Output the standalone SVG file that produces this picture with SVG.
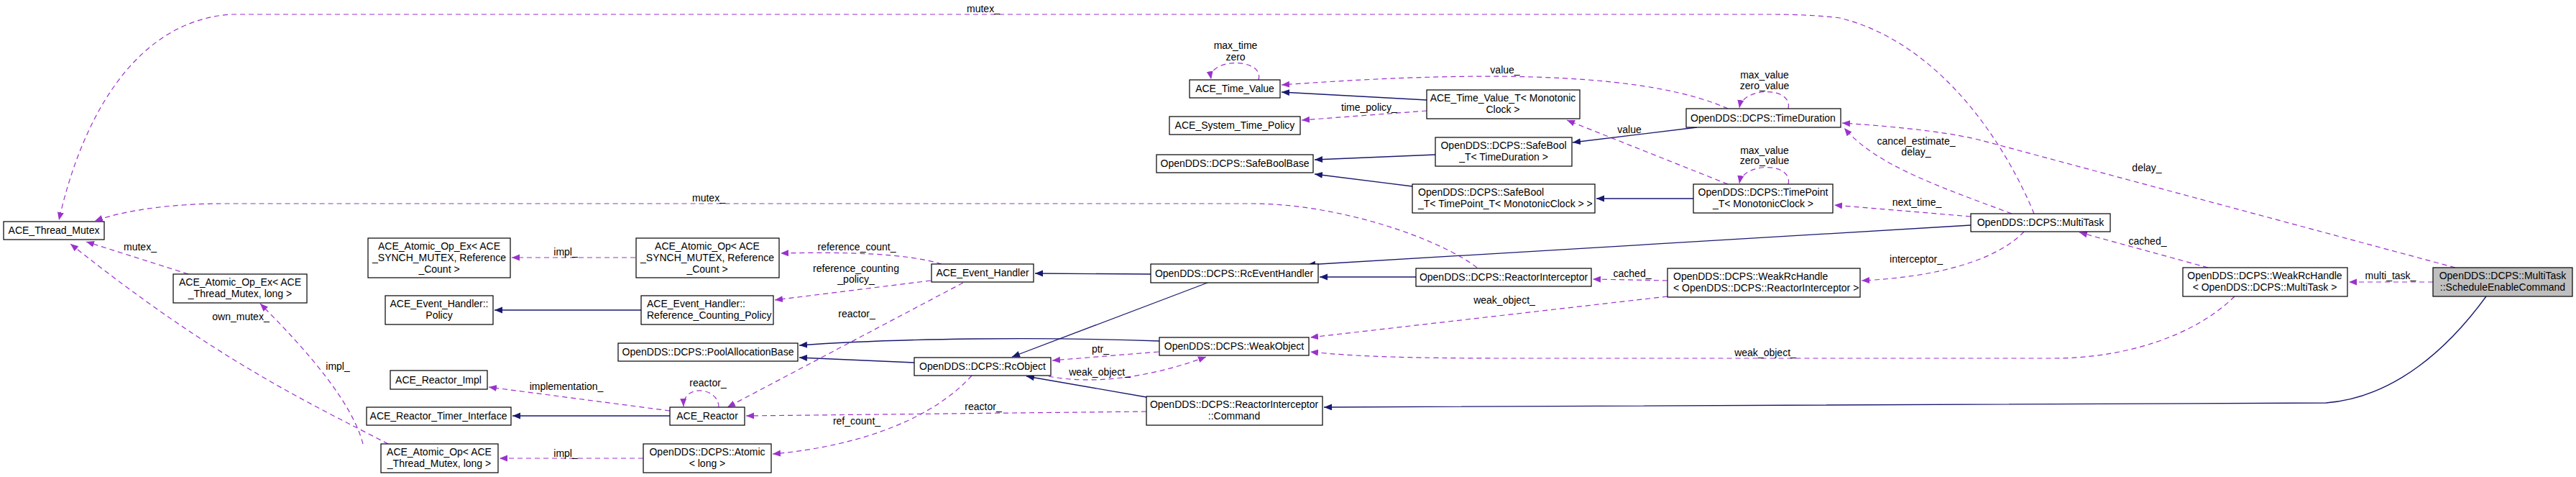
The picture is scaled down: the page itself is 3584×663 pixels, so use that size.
<svg xmlns="http://www.w3.org/2000/svg" width="3584" height="663" viewBox="0 0 3584 663">
<style>
rect{fill:#fff;stroke:#000;stroke-width:1.2}
text{font-family:"Liberation Sans",Arial,sans-serif;font-size:14px;fill:#000}
.c{text-anchor:middle}
.u{fill:none;stroke:#9a32cd;stroke-width:1.2;stroke-dasharray:7,5;marker-end:url(#pu)}
.i{fill:none;stroke:#191970;stroke-width:1.3;marker-end:url(#nv)}
.m{fill:#bfbfbf}
</style>
<defs>
<marker id="pu" markerUnits="userSpaceOnUse" markerWidth="12" markerHeight="10" refX="11" refY="4.5" orient="auto"><path d="M0,0 L11,4.5 L0,9 z" fill="#9a32cd"/></marker>
<marker id="nv" markerUnits="userSpaceOnUse" markerWidth="12" markerHeight="10" refX="11" refY="4.5" orient="auto"><path d="M0,0 L11,4.5 L0,9 z" fill="#191970"/></marker>
</defs>
<rect x="0" y="0" width="3584" height="663" style="stroke:none"/>
<g id="edges">
<path class="u" d="M2830,297 C2790,200 2700,60 2560,25 C2520,20 2480,20 2460,20 L321,20 C180,30 110,180 82,306"/>
<path class="u" d="M2055,372 C2000,330 1860,283 1742,283 L310,283 C250,283 180,290 132,307"/>
<path class="u" d="M262,381 L120,336"/>
<path class="u" d="M540,617 C430,560 300,500 98,339"/>
<path class="u" d="M505,617 C490,560 430,490 362,422"/>
<path class="u" d="M884,358 L712,358"/>
<path class="u" d="M895,637 L695,637"/>
<path class="u" d="M932,571 L680,538"/>
<path class="u" d="M1000,566 C1000,538 950,533 951,565"/>
<path class="u" d="M1310,367 C1260,352 1180,350 1086,352"/>
<path class="u" d="M1295,390 L1078,417"/>
<path class="u" d="M1340,393 L1012,566"/>
<path class="u" d="M1352,522 C1300,580 1200,620 1075,631"/>
<path class="u" d="M1595,572 L1038,578"/>
<path class="u" d="M1612,489 L1464,501"/>
<path class="u" d="M1459,523 C1520,535 1600,525 1678,496"/>
<path class="u" d="M2404,151 C2300,105 2100,95 1783,118"/>
<path class="u" d="M1985,154 L1811,167"/>
<path class="u" d="M2404,256 L2180,167"/>
<path class="u" d="M2488,151 C2495,120 2425,120 2420,150"/>
<path class="u" d="M2488,256 C2495,225 2425,225 2420,255"/>
<path class="u" d="M1751,111 C1760,80 1680,80 1685,110"/>
<path class="u" d="M2799,297 C2700,260 2610,230 2566,178"/>
<path class="u" d="M2742,301 L2552,285"/>
<path class="u" d="M2816,322 C2780,360 2700,385 2590,390"/>
<path class="u" d="M2320,390 L2216,388"/>
<path class="u" d="M2320,412 L1823,469"/>
<path class="u" d="M3072,372 L2893,323"/>
<path class="u" d="M3385,392 L3268,392"/>
<path class="u" d="M3416,372 L2760,196 Q2700,180 2563,171"/>
<path class="u" d="M3109,412 C3050,470 2950,498 2858,498 L2100,498 C1950,498 1880,495 1823,489"/>
<path class="i" d="M892,431 L688,431"/>
<path class="i" d="M932,578 L713,578"/>
<path class="i" d="M1985,139 L1783,128"/>
<path class="i" d="M1997,215 L1829,222"/>
<path class="i" d="M1965,259 L1829,242"/>
<path class="i" d="M2361,177 L2188,198"/>
<path class="i" d="M2356,276 L2221,276"/>
<path class="i" d="M1601,381 L1440,380"/>
<path class="i" d="M1680,393 L1408,496"/>
<path class="i" d="M1970,385 L1836,385"/>
<path class="i" d="M2742,313 L1819,368"/>
<path class="i" d="M1613,474 C1450,468 1250,470 1112,480"/>
<path class="i" d="M1272,504 L1112,497"/>
<path class="i" d="M1595,552 L1428,523"/>
<path class="i" d="M3459,412 C3380,520 3300,555 3236,560 L1842,566"/>
<text class="c" x="1368" y="17">mutex_</text>
<text class="c" x="986" y="280">mutex_</text>
<text class="c" x="195" y="348">mutex_</text>
<text class="c" x="335" y="445">own_mutex_</text>
<text class="c" x="470" y="514">impl_</text>
<text class="c" x="787" y="355">impl_</text>
<text class="c" x="787" y="635">impl_</text>
<text class="c" x="788" y="542">implementation_</text>
<text class="c" x="985" y="537">reactor_</text>
<text class="c" x="1192" y="348">reference_count_</text>
<text class="c" x="1191" y="378">reference_counting</text>
<text class="c" x="1191" y="393">_policy_</text>
<text class="c" x="1192" y="441">reactor_</text>
<text class="c" x="1192" y="590">ref_count_</text>
<text class="c" x="1368" y="570">reactor_</text>
<text class="c" x="1531" y="490">ptr_</text>
<text class="c" x="1530" y="522">weak_object_</text>
<text class="c" x="1719" y="68">max_time</text>
<text class="c" x="1719" y="84">zero</text>
<text class="c" x="2094" y="102">value_</text>
<text class="c" x="1905" y="154">time_policy_</text>
<text class="c" x="2267" y="185">value</text>
<text class="c" x="2455" y="109">max_value</text>
<text class="c" x="2455" y="124">zero_value</text>
<text class="c" x="2455" y="214">max_value</text>
<text class="c" x="2455" y="228">zero_value</text>
<text class="c" x="2666" y="201">cancel_estimate_</text>
<text class="c" x="2666" y="216">delay_</text>
<text class="c" x="2667" y="286">next_time_</text>
<text class="c" x="2666" y="365">interceptor_</text>
<text class="c" x="2271" y="385">cached_</text>
<text class="c" x="2093" y="422">weak_object_</text>
<text class="c" x="2456" y="495">weak_object_</text>
<text class="c" x="2987" y="238">delay_</text>
<text class="c" x="2988" y="340">cached_</text>
<text class="c" x="3326" y="388">multi_task_</text>
</g>
<g id="n1"><rect x="5" y="308" width="140" height="25"/><text class="c" x="75" y="325">ACE_Thread_Mutex</text></g>
<g id="n2"><rect x="241" y="381" width="186" height="40"/><text class="c" x="334" y="397">ACE_Atomic_Op_Ex&lt; ACE</text><text class="c" x="334" y="413">_Thread_Mutex, long &gt;</text></g>
<g id="n3"><rect x="530" y="617" width="163" height="40"/><text class="c" x="611" y="633">ACE_Atomic_Op&lt; ACE</text><text class="c" x="611" y="649">_Thread_Mutex, long &gt;</text></g>
<g id="n4"><rect x="512" y="331" width="198" height="55"/><text class="c" x="611" y="347">ACE_Atomic_Op_Ex&lt; ACE</text><text class="c" x="611" y="363">_SYNCH_MUTEX, Reference</text><text class="c" x="611" y="379">_Count &gt;</text></g>
<g id="n5"><rect x="536" y="411" width="150" height="40"/><text class="c" x="611" y="427">ACE_Event_Handler::</text><text class="c" x="611" y="443">Policy</text></g>
<g id="n6"><rect x="543" y="515" width="135" height="26"/><text class="c" x="610" y="533">ACE_Reactor_Impl</text></g>
<g id="n7"><rect x="510" y="566" width="201" height="25"/><text class="c" x="610" y="583">ACE_Reactor_Timer_Interface</text></g>
<g id="n8"><rect x="885" y="331" width="199" height="55"/><text class="c" x="984" y="347">ACE_Atomic_Op&lt; ACE</text><text class="c" x="984" y="363">_SYNCH_MUTEX, Reference</text><text class="c" x="984" y="379">_Count &gt;</text></g>
<g id="n9"><rect x="892" y="411" width="184" height="40"/><text x="900" y="427">ACE_Event_Handler::</text><text x="900" y="443">Reference_Counting_Policy</text></g>
<g id="n10"><rect x="860" y="477" width="250" height="25"/><text class="c" x="985" y="494">OpenDDS::DCPS::PoolAllocationBase</text></g>
<g id="n11"><rect x="932" y="566" width="104" height="25"/><text class="c" x="984" y="583">ACE_Reactor</text></g>
<g id="n12"><rect x="895" y="617" width="178" height="40"/><text class="c" x="984" y="633">OpenDDS::DCPS::Atomic</text><text class="c" x="984" y="649">&lt; long &gt;</text></g>
<g id="n13"><rect x="1296" y="367" width="142" height="25"/><text class="c" x="1367" y="384">ACE_Event_Handler</text></g>
<g id="n14"><rect x="1272" y="497" width="190" height="25"/><text class="c" x="1367" y="514">OpenDDS::DCPS::RcObject</text></g>
<g id="n15"><rect x="1601" y="367" width="233" height="26"/><text class="c" x="1717" y="385">OpenDDS::DCPS::RcEventHandler</text></g>
<g id="n16"><rect x="1613" y="469" width="208" height="25"/><text class="c" x="1717" y="486">OpenDDS::DCPS::WeakObject</text></g>
<g id="n17"><rect x="1595" y="551" width="245" height="40"/><text class="c" x="1717" y="567">OpenDDS::DCPS::ReactorInterceptor</text><text class="c" x="1717" y="583">::Command</text></g>
<g id="n18"><rect x="1655" y="111" width="126" height="25"/><text class="c" x="1718" y="128">ACE_Time_Value</text></g>
<g id="n19"><rect x="1627" y="162" width="182" height="25"/><text class="c" x="1718" y="179">ACE_System_Time_Policy</text></g>
<g id="n20"><rect x="1609" y="215" width="218" height="25"/><text class="c" x="1718" y="232">OpenDDS::DCPS::SafeBoolBase</text></g>
<g id="n21"><rect x="1985" y="125" width="213" height="40"/><text class="c" x="2091" y="141">ACE_Time_Value_T&lt; Monotonic</text><text class="c" x="2091" y="157">Clock &gt;</text></g>
<g id="n22"><rect x="1997" y="191" width="190" height="40"/><text class="c" x="2092" y="207">OpenDDS::DCPS::SafeBool</text><text class="c" x="2092" y="223">_T&lt; TimeDuration &gt;</text></g>
<g id="n23"><rect x="1965" y="256" width="254" height="40"/><text x="1973" y="272">OpenDDS::DCPS::SafeBool</text><text x="1973" y="288">_T&lt; TimePoint_T&lt; MonotonicClock &gt; &gt;</text></g>
<g id="n24"><rect x="1970" y="373" width="244" height="25"/><text class="c" x="2092" y="390">OpenDDS::DCPS::ReactorInterceptor</text></g>
<g id="n25"><rect x="2346" y="151" width="215" height="26"/><text class="c" x="2453" y="169">OpenDDS::DCPS::TimeDuration</text></g>
<g id="n26"><rect x="2356" y="256" width="194" height="40"/><text class="c" x="2453" y="272">OpenDDS::DCPS::TimePoint</text><text class="c" x="2453" y="288">_T&lt; MonotonicClock &gt;</text></g>
<g id="n27"><rect x="2320" y="373" width="268" height="40"/><text x="2328" y="389">OpenDDS::DCPS::WeakRcHandle</text><text x="2328" y="405">&lt; OpenDDS::DCPS::ReactorInterceptor &gt;</text></g>
<g id="n28"><rect x="2742" y="297" width="194" height="25"/><text class="c" x="2839" y="314">OpenDDS::DCPS::MultiTask</text></g>
<g id="n29"><rect x="3037" y="372" width="229" height="40"/><text class="c" x="3151" y="388">OpenDDS::DCPS::WeakRcHandle</text><text class="c" x="3151" y="404">&lt; OpenDDS::DCPS::MultiTask &gt;</text></g>
<g id="n30"><rect class="m" x="3385" y="372" width="194" height="40"/><text class="c" x="3482" y="388">OpenDDS::DCPS::MultiTask</text><text class="c" x="3482" y="404">::ScheduleEnableCommand</text></g>
</svg>
